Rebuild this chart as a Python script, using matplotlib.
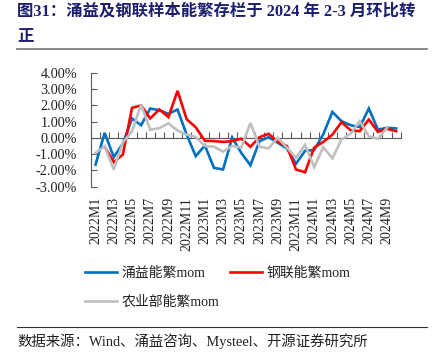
import numpy as np
import matplotlib
matplotlib.use("Agg")
import matplotlib.pyplot as plt

plt.rcParams['font.family'] = ['Liberation Serif', 'Noto Sans CJK SC', 'DejaVu Sans']

categories = ["2022M1", "2022M2", "2022M3", "2022M4", "2022M5", "2022M6", "2022M7", "2022M8",
              "2022M9", "2022M10", "2022M11", "2022M12", "2023M1", "2023M2", "2023M3", "2023M4",
              "2023M5", "2023M6", "2023M7", "2023M8", "2023M9", "2023M10", "2023M11", "2023M12",
              "2024M1", "2024M2", "2024M3", "2024M4", "2024M5", "2024M6", "2024M7", "2024M8",
              "2024M9", "2024M10"]

yongyi_mom = [-1.65, 0.31, -1.19, -0.35, 1.19, 0.78, 1.81, 1.70, 1.48, 1.75, 0.20, -1.13,
              -0.47, -1.85, -1.95, 0.02, -0.93, -1.69, -0.20, 0.04, -0.30, -0.65, -1.60, -0.80,
              -0.75, 0.22, 1.60, 1.03, 0.78, 0.66, 1.81, 0.51, 0.62, 0.58]

ganglian_mom = [np.nan, -0.55, -1.50, -1.03, 1.85, 2.00, 1.20, 1.75, 1.28, 2.90, 1.15, 0.65,
                -0.18, -0.20, -0.25, -0.20, -0.05, -0.55, 0.04, 0.25, -0.25, -0.50, -1.95, -2.12,
                -0.60, -0.25, 0.20, 0.97, 0.47, 0.41, 1.13, 0.37, 0.56, 0.41]

nongyebu_mom = [-0.93, -0.51, -1.95, -0.28, 0.40, 2.05, 0.50, 0.60, 0.90, 0.45, 0.20, 0.06,
                -0.50, -0.55, -0.85, -0.50, -0.60, 0.92, -0.55, -0.65, 0.00, -0.60, -1.23, -0.43,
                -1.81, -0.58, -1.26, -0.10, 0.25, 1.03, 0.10, -0.06, 0.62, np.nan]

series_names = ["涌益能繁mom", "钢联能繁mom", "农业部能繁mom"]
yticks = [-3, -2, -1, 0, 1, 2, 3, 4]

W, H = 436, 354
fig = plt.figure(figsize=(W / 100, H / 100), dpi=100)

# title
fig.text(17 / W, 1 - 3 / H, "图31：涌益及钢联样本能繁存栏于 2024 年 2-3 月环比转\n正",
         ha='left', va='top', fontsize=11.8, fontweight='bold', color='#1b1f6e',
         linespacing=1.85)
fig.add_artist(plt.Line2D([17 / W, 427 / W], [1 - 49 / H, 1 - 49 / H],
                          color='#808080', lw=1.3))

left, right = 91 / W, 400.7 / W
bottom, top = 1 - 186.5 / H, 1 - 73 / H
ax = fig.add_axes([left, bottom, right - left, top - bottom])

x = np.arange(len(categories))
l1, = ax.plot(x, yongyi_mom, color='#0070C0', lw=1.9, solid_joinstyle='miter')
l2, = ax.plot(x, ganglian_mom, color='#FF0000', lw=1.9, solid_joinstyle='miter')
l3, = ax.plot(x, nongyebu_mom, color='#BFBFBF', lw=1.9, solid_joinstyle='miter')

ymin, ymax = -3, 4
ax.set_ylim(ymin, ymax)
ax.set_xlim(-0.5, len(categories) - 0.5)
ax.set_yticks(yticks)
ax.set_yticklabels([f"{v:.2f}%" for v in yticks])
ax.tick_params(axis='y', direction='in', length=4, width=0.8, color='#595959',
               pad=10, labelsize=10.3, labelcolor='#222222')

ax.set_xticks(x[::2])
ax.set_xticklabels(categories[::2], rotation=90)
ax.tick_params(axis='x', length=0, pad=7.5, labelsize=10, labelcolor='#222222')

for s in ['top', 'right', 'bottom']:
    ax.spines[s].set_visible(False)
ax.spines['left'].set_color('#595959')
ax.spines['left'].set_linewidth(0.8)

# zero-line category axis with boundary tick marks
loc = (0 - ymin) / (ymax - ymin)
sec = ax.secondary_xaxis(loc)
sec.set_xticks(np.arange(-0.5, len(categories), 1.0))
sec.tick_params(axis='x', direction='in', length=4, width=0.8, color='#595959',
                labelbottom=False, labeltop=False)
for s in sec.spines.values():
    s.set_color('#595959')
    s.set_linewidth(0.8)

leg = fig.legend([l1, l3, l2], [series_names[0], series_names[2], series_names[1]],
                 ncol=2, loc='upper left', bbox_to_anchor=(85 / W, 1 - 267 / H),
                 frameon=False, borderpad=0, borderaxespad=0, handlelength=2.3,
                 handletextpad=0.3, columnspacing=0.8, labelspacing=1.15,
                 prop={'size': 10, 'family': ['Liberation Serif', 'Noto Sans CJK SC']})
for t in leg.get_texts():
    t.set_color('#222222')

fig.add_artist(plt.Line2D([17 / W, 427 / W], [1 - 327 / H, 1 - 327 / H],
                          color='#333333', lw=0.8))
fig.text(17 / W, 1 - 341 / H, "数据来源：Wind、涌益咨询、Mysteel、开源证券研究所",
         ha='left', va='center', fontsize=10.4, color='#222222')

fig.savefig("out.png", dpi=100)
